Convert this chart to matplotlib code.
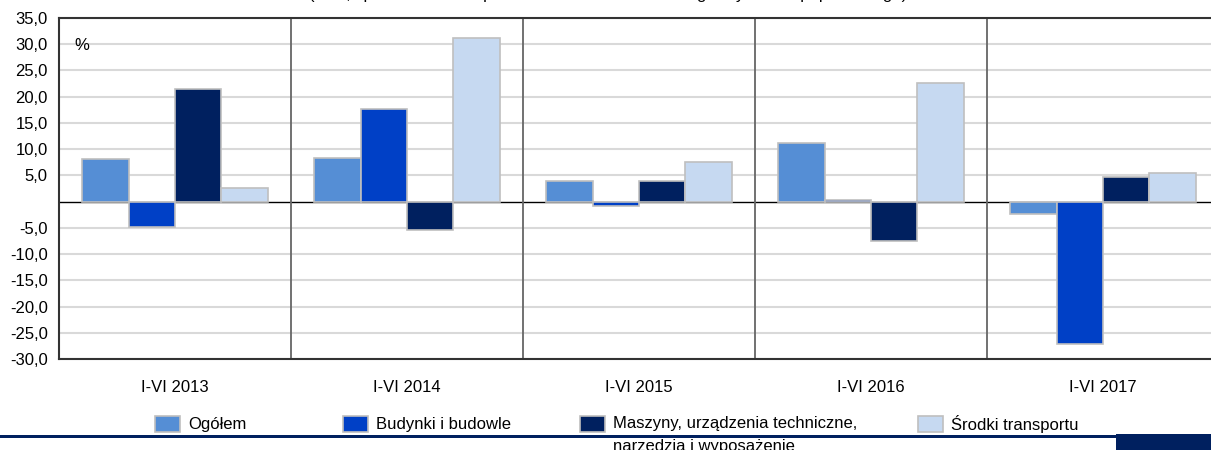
import numpy as np
import matplotlib
matplotlib.use("Agg")
import matplotlib.pyplot as plt
from matplotlib.patches import Rectangle

plt.rcParams['font.family'] = ['Liberation Sans', 'DejaVu Sans']
plt.rcParams["font.size"] = 12

# dane
okresy = ["I-VI 2013", "I-VI 2014", "I-VI 2015", "I-VI 2016", "I-VI 2017"]
serie = ["Ogółem", "Budynki i budowle",
         "Maszyny, urządzenia techniczne,\nnarzędzia i wyposażenie",
         "Środki transportu"]
ogolem = [8.2, 8.3, 3.9, 11.2, -2.3]
budynki = [-4.9, 17.6, -0.9, 0.4, -27.2]
maszyny = [21.5, -5.5, 4.0, -7.5, 4.6]
srodki = [2.6, 31.1, 7.5, 22.7, 5.5]
kolory = ["#558ED5", "#0040C6", "#00205F", "#C6D9F1"]

W, H = 1211, 450
fig = plt.figure(figsize=(W/100, H/100), dpi=100)
ax = fig.add_axes([59/W, (H-359)/H, 1160/W, 341/H])

x = np.arange(len(okresy))
szer = 0.2
for i, (vals, kol) in enumerate(zip([ogolem, budynki, maszyny, srodki], kolory)):
    ax.bar(x + (i-1.5)*szer, vals, szer, color=kol, edgecolor="#BFBFBF",
           linewidth=1.2, zorder=3)

ax.set_xlim(-0.5, len(okresy)-0.5)
ax.set_ylim(-30, 35)
yt = [v for v in range(-30, 36, 5) if v != 0]
ax.set_yticks(yt)
ax.set_yticklabels([f"{v:.1f}".replace(".", ",") for v in yt])
ax.set_xticks(x)
ax.set_xticklabels(okresy)
ax.tick_params(axis="both", length=0)
ax.tick_params(axis="x", pad=15)
ax.tick_params(axis="y", pad=8)

# siatka i linie podziału
ax.grid(axis="y", color="#D9D9D9", linewidth=1.5, zorder=0)
ax.axhline(0, color="black", linewidth=1, zorder=1)
for xs in x[:-1] + 0.5:
    ax.axvline(xs, color="#666666", linewidth=1.3, zorder=2)
for s in ["left", "bottom", "top"]:
    ax.spines[s].set_color("#333333")
    ax.spines[s].set_linewidth(1.5)
ax.spines["right"].set_visible(False)

ax.text(15/1160, 1-20/341, "%", transform=ax.transAxes, va="top", ha="left")

# tytuł (ucięty u góry, widać tylko dolne fragmenty liter)
fig.text(608/W, 1+0.5/H, "(w %; spadek/wzrost w porównaniu z okresem analogicznym roku poprzedniego)",
         ha="center", va="baseline", fontsize=12)

# legenda
leg_x = [155, 343, 580, 918]
for lx, nazwa, kol in zip(leg_x, serie, kolory):
    fig.add_artist(Rectangle((lx/W, (H-432)/H), 25/W, 16/H, transform=fig.transFigure,
                             facecolor=kol, edgecolor="#BFBFBF", linewidth=1.2))
    if "\n" in nazwa:
        fig.text((lx+33)/W, (H-416)/H, nazwa, ha="left", va="top",
                 fontsize=12, linespacing=1.7)
    else:
        fig.text((lx+33)/W, (H-424)/H, nazwa, ha="left", va="center", fontsize=12)

# ozdobny pasek na dole
fig.add_artist(Rectangle((0, (H-437.5)/H), 1116/W, 3/H, transform=fig.transFigure,
                         facecolor="#00205F", edgecolor="none"))
fig.add_artist(Rectangle((1116/W, 0), 95/W, 16/H, transform=fig.transFigure,
                         facecolor="#00205F", edgecolor="none"))

fig.savefig("out.png", dpi=100)
